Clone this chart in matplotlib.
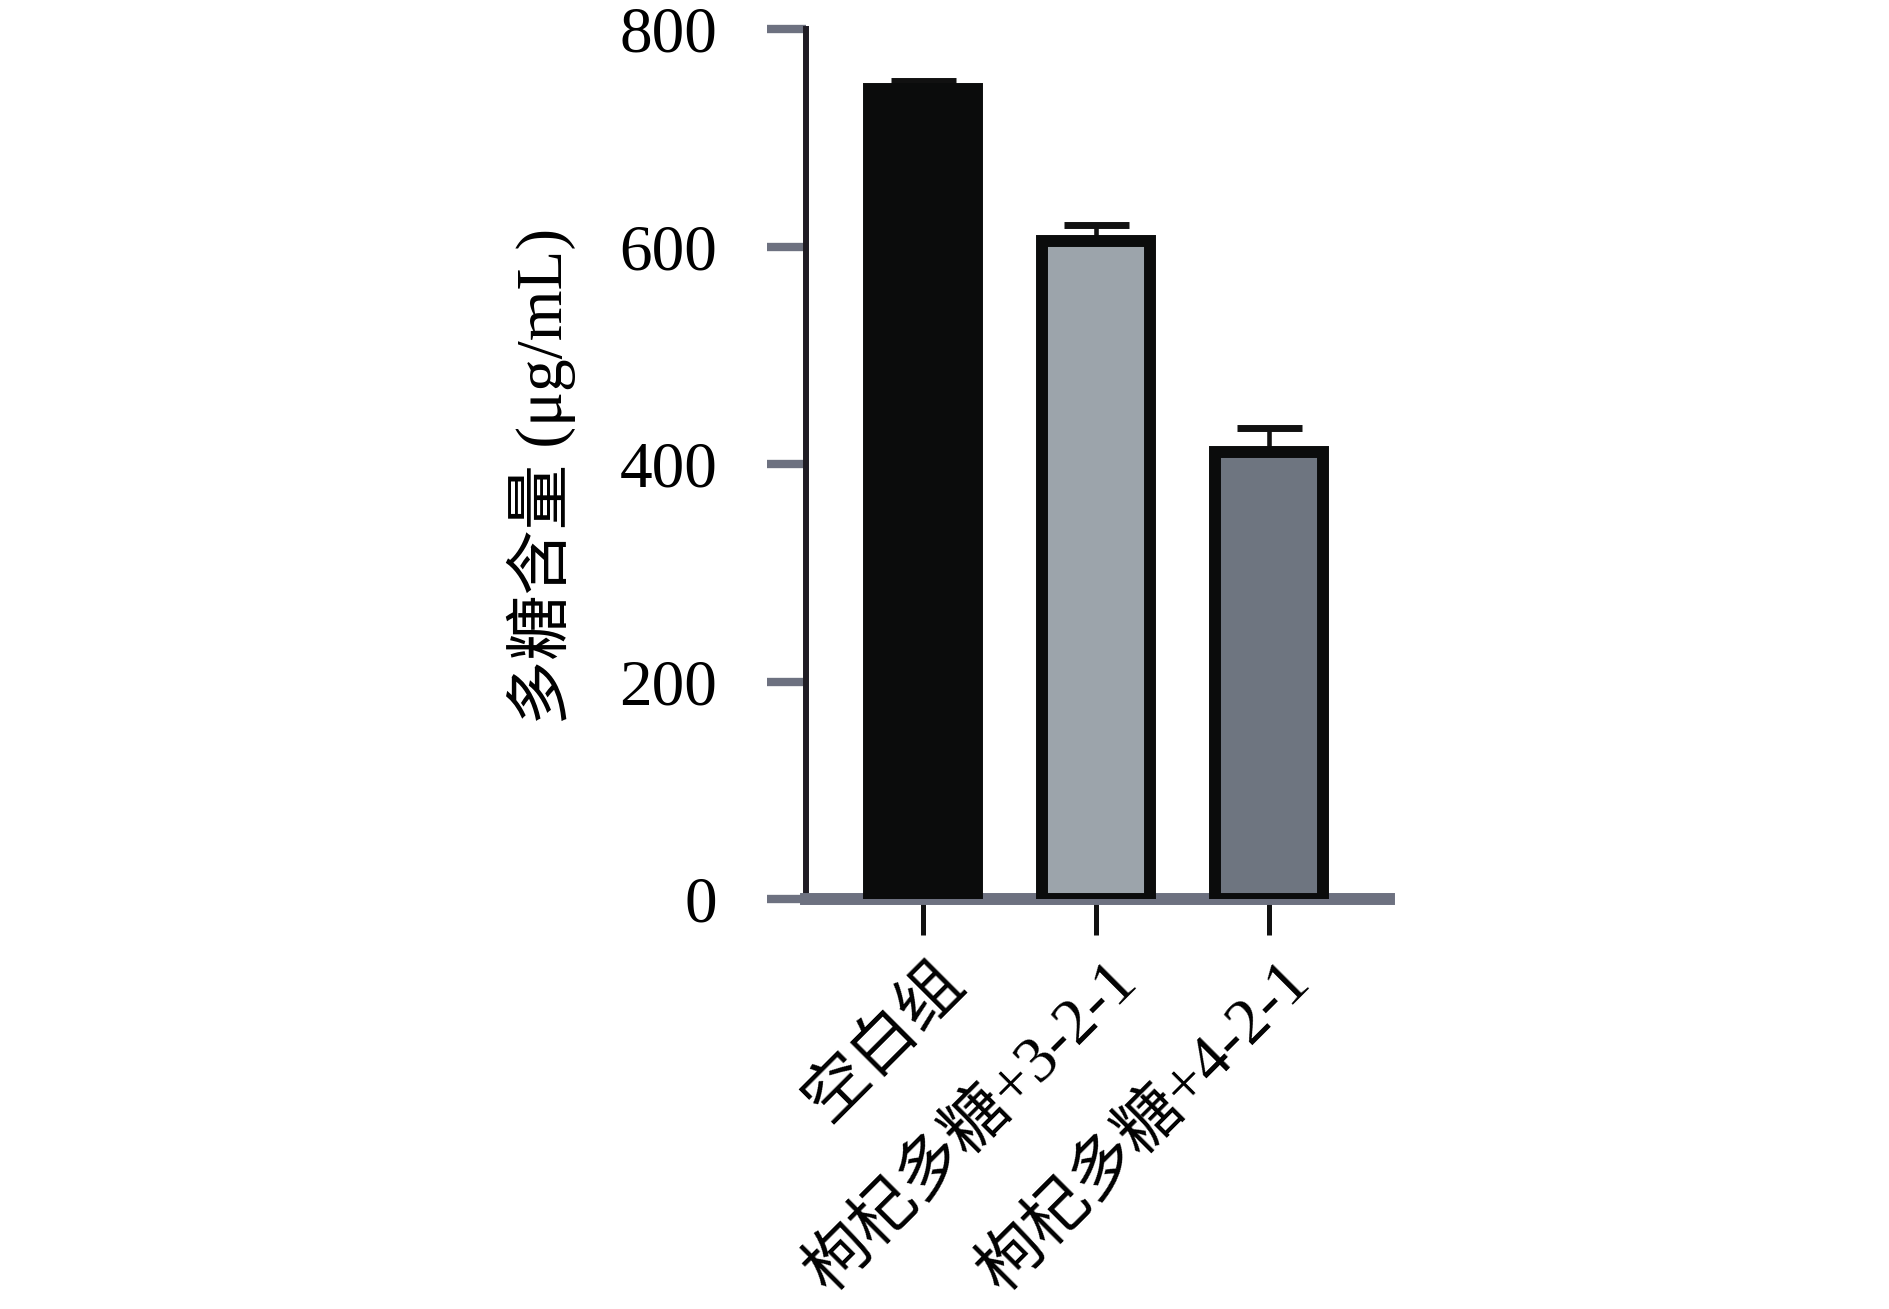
import matplotlib
matplotlib.use('Agg')
import matplotlib.pyplot as plt
import matplotlib.transforms as mtransforms
import numpy as np

# data
groups = ['空白组', '枸杞多糖+3-2-1', '枸杞多糖+4-2-1']
means = [745, 605, 411]
errs = [7, 15, 22]
bar_colors = ['#0b0c0c', '#9ca4ab', '#6e7580']
yticks = [0, 200, 400, 600, 800]

plt.rcParams['font.family'] = ['Liberation Serif', 'Noto Sans CJK SC']

fig = plt.figure(figsize=(18.9, 13.09), dpi=100)
ax = fig.add_axes([0.4265, 0.3132, 0.3085, 0.6646])

x = np.arange(len(groups))
ax.bar(x, means, width=0.62, color=bar_colors, edgecolor='#0b0c0c',
       linewidth=8.6, zorder=3)
ax.errorbar(x, means, yerr=[np.zeros(len(errs)), errs], fmt='none',
            ecolor='#111111', elinewidth=3.3, capsize=23.4, capthick=5,
            zorder=2)

ax.set_xlim(-0.676, 2.694)
ax.set_ylim(0, 800)

for side in ['top', 'right']:
    ax.spines[side].set_visible(False)
ax.spines['left'].set_color('#1f1c24')
ax.spines['left'].set_linewidth(4.3)
ax.spines['bottom'].set_color('#6d7180')
ax.spines['bottom'].set_linewidth(8.6)

ax.set_yticks(yticks)
ax.tick_params(axis='y', length=28, width=6, color='#6d7180', pad=36,
               labelsize=47)
ax.set_xticks(x)
ax.set_xticklabels(groups, rotation=45, ha='right', va='center',
                   rotation_mode='anchor')
ax.tick_params(axis='x', length=26, width=3.6, color='#111111', pad=27,
               labelsize=47)

# shift the rotated labels a bit right, like the original
offset = mtransforms.ScaledTranslation(0.31, 0, fig.dpi_scale_trans)
for label in ax.get_xticklabels():
    label.set_transform(label.get_transform() + offset)

ax.set_ylabel('多糖含量 (μg/mL)', fontsize=47)
ax.yaxis.set_label_coords(-0.395, 0.486)

fig.savefig('out.png', dpi=100)
